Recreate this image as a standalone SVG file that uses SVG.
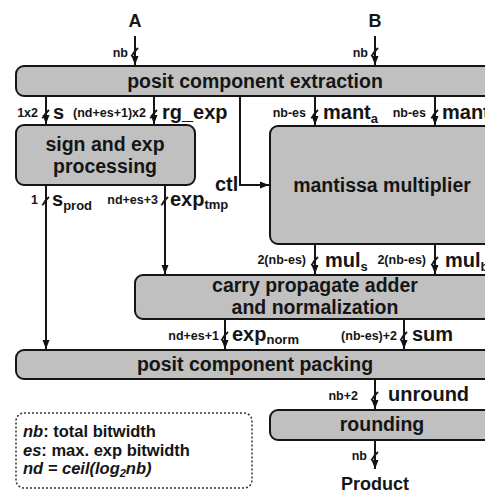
<svg xmlns="http://www.w3.org/2000/svg" width="485" height="494" viewBox="0 0 485 494">
<defs>
<marker id="ah" markerWidth="10" markerHeight="10" refX="9" refY="5" orient="auto" markerUnits="userSpaceOnUse">
<path d="M0,1.5 L9,5 L0,8.5 Z" fill="#111"/>
</marker>
<style>
text{font-family:"Liberation Sans",Arial,sans-serif;font-weight:bold;fill:#151515}
.box{fill:#c0c0c0;stroke:#151515;stroke-width:2}
.t{font-size:19.5px;text-anchor:middle}
.io{font-size:18px;text-anchor:middle}
.w{font-size:12.5px;text-anchor:end}
.sig{font-size:20px}
.sub{font-size:13px}
.c{fill:none;stroke:#151515;stroke-width:2}
.sl{fill:none;stroke:#151515;stroke-width:1.8}
.leg{font-size:16.5px}
</style>
</defs>
<rect width="485" height="494" fill="#fff"/>

<g id="connectors">
<path class="c" d="M135,36 V65" marker-end="url(#ah)"/>
<path class="c" d="M375,36 V65" marker-end="url(#ah)"/>
<path class="c" d="M46,96 V124" marker-end="url(#ah)"/>
<path class="c" d="M154,96 V124" marker-end="url(#ah)"/>
<path class="c" d="M240,96 V185 H269" marker-end="url(#ah)"/>
<path class="c" d="M315,96 V125" marker-end="url(#ah)"/>
<path class="c" d="M435,96 V125" marker-end="url(#ah)"/>
<path class="c" d="M46,185 V349" marker-end="url(#ah)"/>
<path class="c" d="M165,185 V274" marker-end="url(#ah)"/>
<path class="c" d="M315,244 V274" marker-end="url(#ah)"/>
<path class="c" d="M435,244 V274" marker-end="url(#ah)"/>
<path class="c" d="M225,319 V349" marker-end="url(#ah)"/>
<path class="c" d="M404,319 V349" marker-end="url(#ah)"/>
<path class="c" d="M375,379 V409" marker-end="url(#ah)"/>
<path class="c" d="M375,440 V469" marker-end="url(#ah)"/>
<!-- bus slashes -->
<path class="sl" d="M131,56 q2,-1 2,-2 q1,-2 5,-6"/>
<path class="sl" d="M371,56 q2,-1 2,-2 q1,-2 5,-6"/>
<path class="sl" d="M42,118 q2,-1 2,-2 q1,-2 5,-6"/>
<path class="sl" d="M150,118 q2,-1 2,-2 q1,-2 5,-6"/>
<path class="sl" d="M311,118 q2,-1 2,-2 q1,-2 5,-6"/>
<path class="sl" d="M431,118 q2,-1 2,-2 q1,-2 5,-6"/>
<path class="sl" d="M42,205 q2,-1 2,-2 q1,-2 5,-6"/>
<path class="sl" d="M161,205 q2,-1 2,-2 q1,-2 5,-6"/>
<path class="sl" d="M311,265 q2,-1 2,-2 q1,-2 5,-6"/>
<path class="sl" d="M431,265 q2,-1 2,-2 q1,-2 5,-6"/>
<path class="sl" d="M221,340 q2,-1 2,-2 q1,-2 5,-6"/>
<path class="sl" d="M400,340 q2,-1 2,-2 q1,-2 5,-6"/>
<path class="sl" d="M371,400 q2,-1 2,-2 q1,-2 5,-6"/>
<path class="sl" d="M371,460 q2,-1 2,-2 q1,-2 5,-6"/>
<!-- width labels -->
<text class="w" x="128" y="57">nb</text>
<text class="w" x="368" y="57">nb</text>
<text class="w" x="38" y="117">1x2</text>
<text class="w" x="146" y="117">(nd+es+1)x2</text>
<text class="w" x="306" y="117">nb-es</text>
<text class="w" x="426" y="117">nb-es</text>
<text class="w" x="38" y="204">1</text>
<text class="w" x="158" y="204">nd+es+3</text>
<text class="w" x="306" y="264">2(nb-es)</text>
<text class="w" x="426" y="264">2(nb-es)</text>
<text class="w" x="219" y="340">nd+es+1</text>
<text class="w" x="397" y="340">(nb-es)+2</text>
<text class="w" x="358" y="400">nb+2</text>
<text class="w" x="367" y="460">nb</text>
<!-- signal names -->
<text class="sig" x="53" y="119">s</text>
<text class="sig" x="162" y="119">rg_exp</text>
<text class="sig" x="323" y="119">mant<tspan class="sub" dy="4">a</tspan></text>
<text class="sig" x="442" y="119">mant<tspan class="sub" dy="4">b</tspan></text>
<text class="sig" x="215" y="191">ctl</text>
<text class="sig" x="52" y="206">s<tspan class="sub" dy="4">prod</tspan></text>
<text class="sig" x="170" y="206">exp<tspan class="sub" dy="3">tmp</tspan></text>
<text class="sig" x="325" y="267">mul<tspan class="sub" dy="4">s</tspan></text>
<text class="sig" x="445" y="267">mul<tspan class="sub" dy="4">b</tspan></text>
<text class="sig" x="232" y="341">exp<tspan class="sub" dy="3">norm</tspan></text>
<text class="sig" x="412" y="341">sum</text>
<text class="sig" x="388" y="401">unround</text>
<text class="io" x="135" y="27">A</text>
<text class="io" x="375" y="27">B</text>
<text class="io" x="375" y="490" font-size="19.5">Product</text>
</g>

<g id="extraction">
<rect class="box" x="16" y="66" width="500" height="30" rx="8"/>
<text class="t" x="255" y="88">posit component extraction</text>
</g>
<g id="sign_exp">
<rect class="box" x="16" y="125" width="179" height="60" rx="8"/>
<text class="t" x="105" y="151">sign and exp</text>
<text class="t" x="105" y="173">processing</text>
</g>
<g id="mantissa">
<rect class="box" x="270" y="126" width="240" height="118" rx="8"/>
<text class="t" x="382" y="192">mantissa multiplier</text>
</g>
<g id="carry">
<rect class="box" x="135" y="275" width="375" height="44" rx="8"/>
<text class="t" x="315" y="292">carry propagate adder</text>
<text class="t" x="315" y="314">and normalization</text>
</g>
<g id="packing">
<rect class="box" x="16" y="350" width="500" height="29" rx="8"/>
<text class="t" x="255" y="371">posit component packing</text>
</g>
<g id="rounding">
<rect class="box" x="270" y="410" width="240" height="30" rx="8"/>
<text class="t" x="382" y="431">rounding</text>
</g>
<g id="legend">
<rect x="16" y="413" width="236" height="75" rx="8" fill="none" stroke="#333" stroke-width="1.5" stroke-dasharray="2,2"/>
<text class="leg" x="23" y="437"><tspan font-style="italic">nb</tspan>: total bitwidth</text>
<text class="leg" x="23" y="456"><tspan font-style="italic">es</tspan>: max. exp bitwidth</text>
<text class="leg" x="23" y="474" font-style="italic">nd = ceil(log<tspan font-size="11" dy="3">2</tspan><tspan dy="-3">nb)</tspan></text>
</g>
</svg>
